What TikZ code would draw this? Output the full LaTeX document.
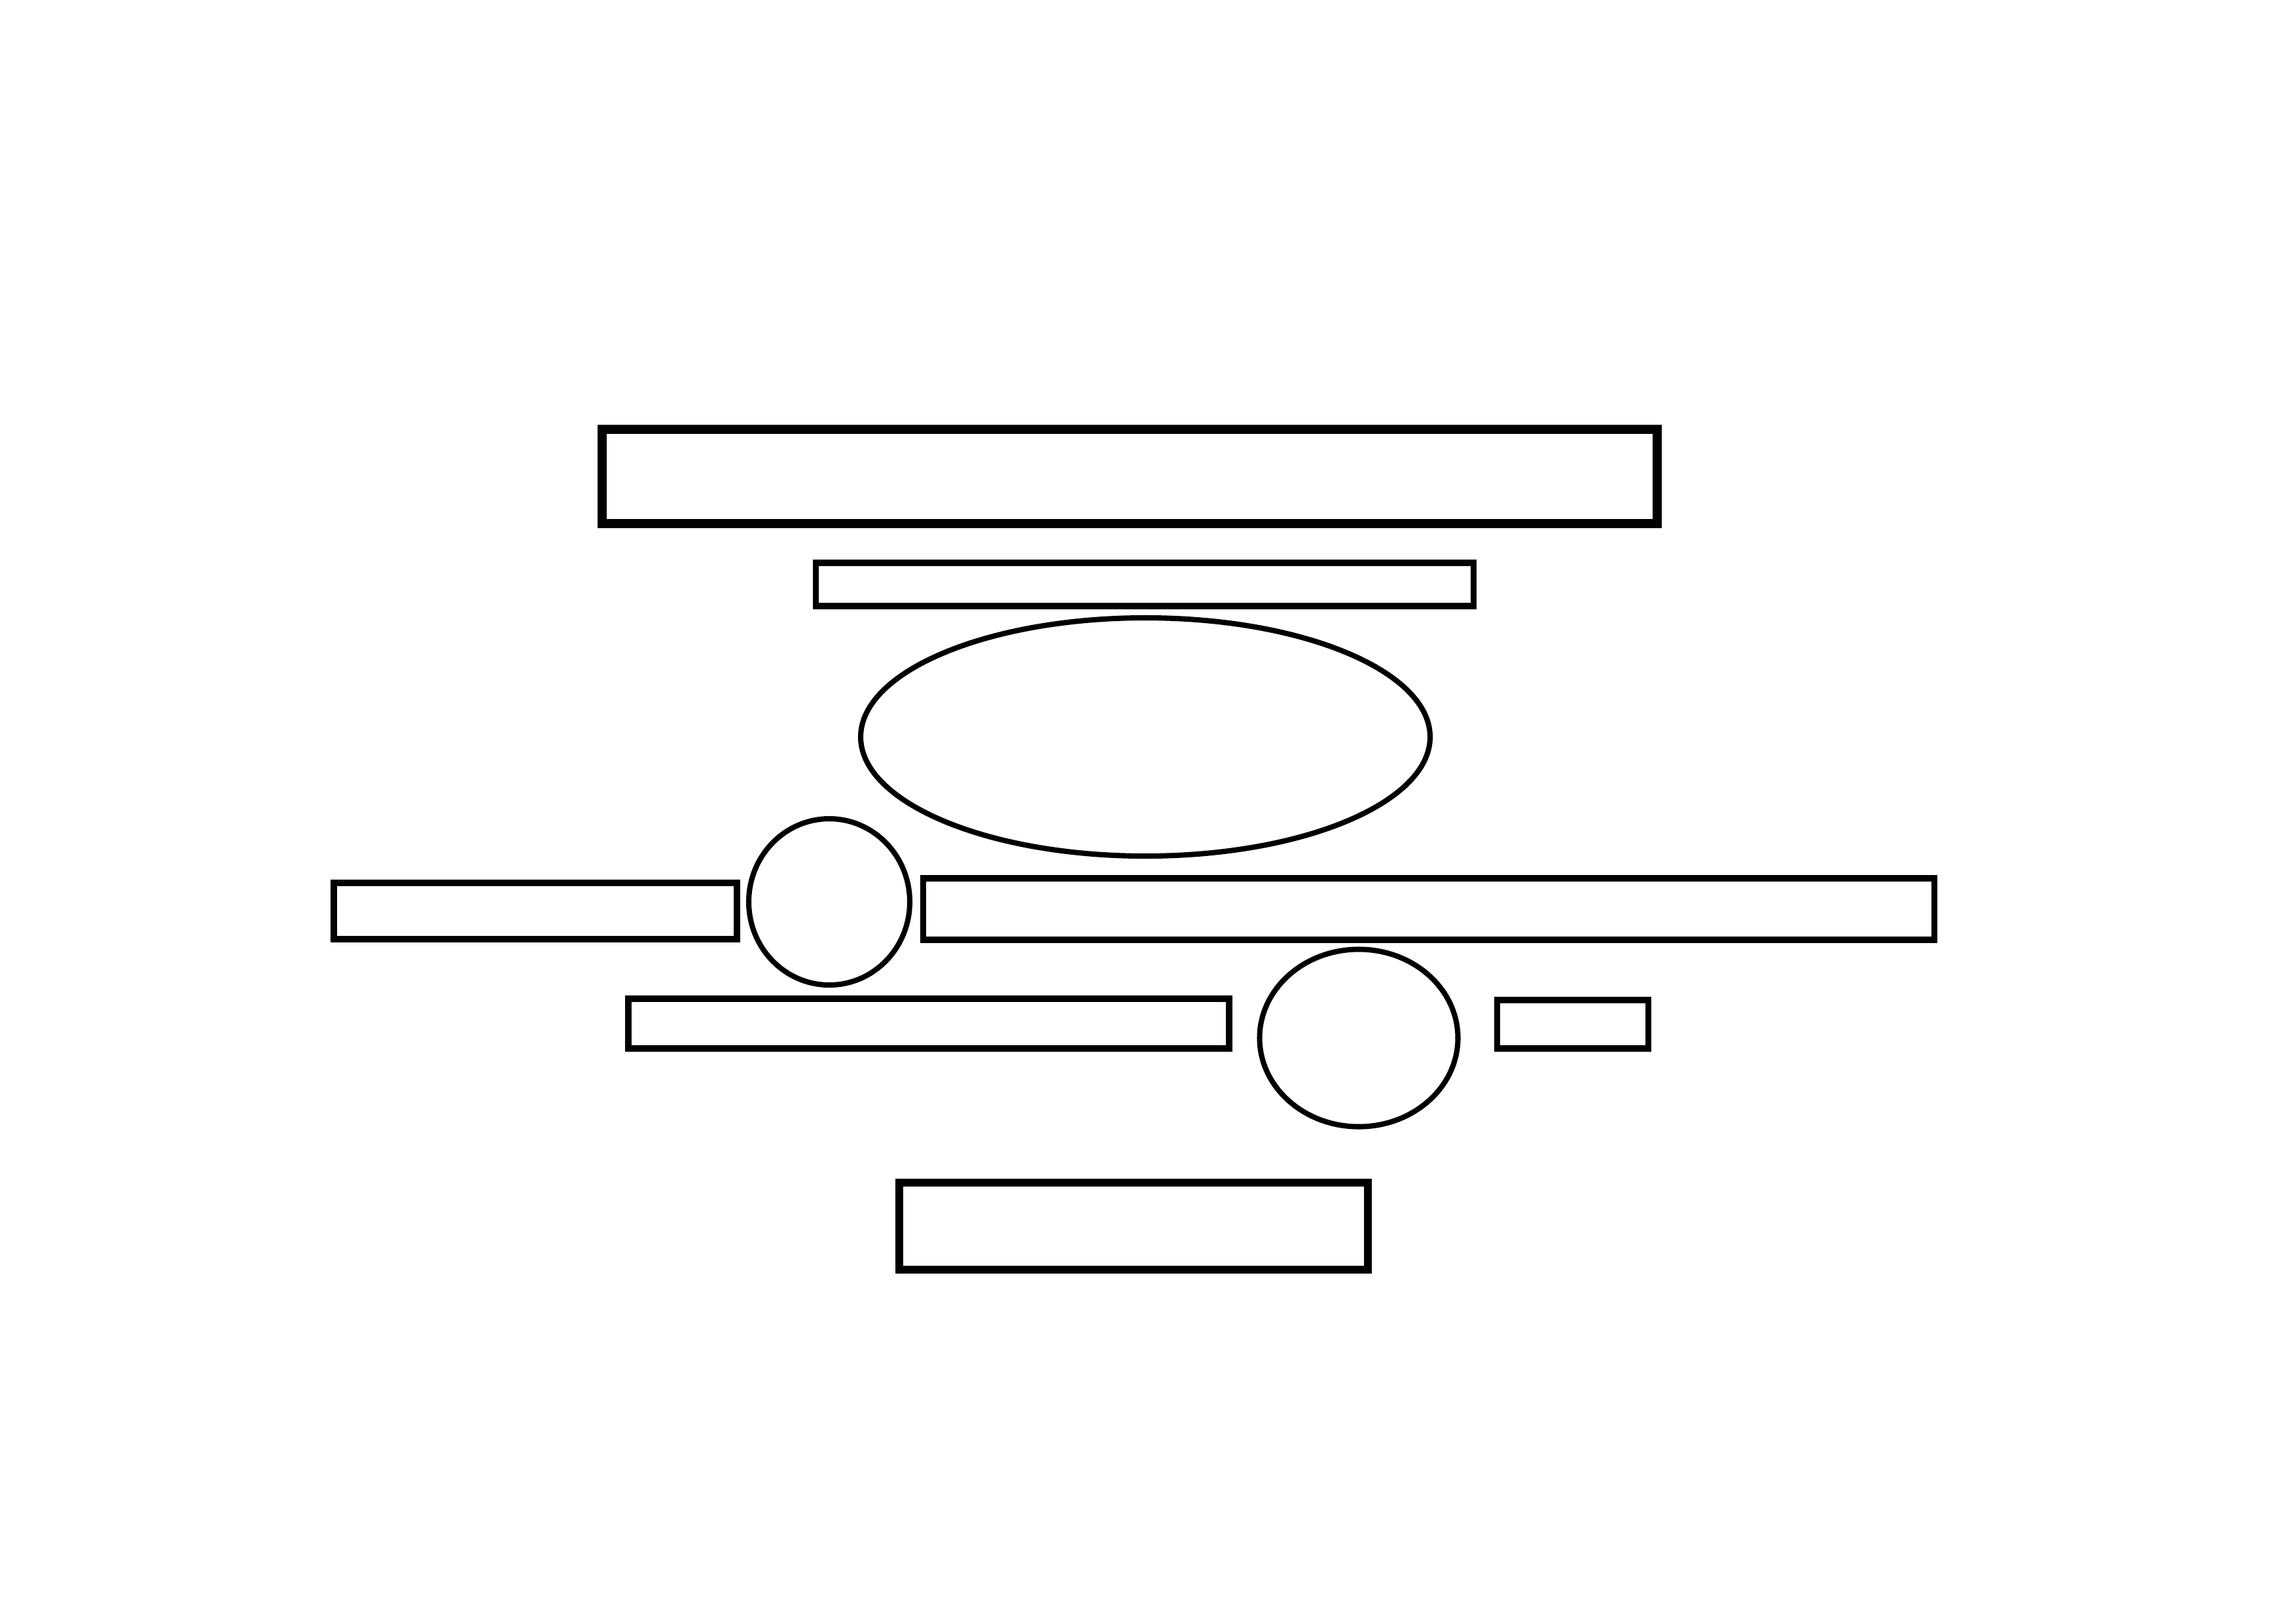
\documentclass[tikz,border=0pt]{standalone}
\usepackage{tikz}
\usetikzlibrary{shapes.geometric}

\begin{document}
\begin{tikzpicture}[
        box/.style={rectangle, draw=black, line width=2.6pt, inner sep=0pt},
        bigbox/.style={box, line width=4pt},
        oval/.style={ellipse, draw=black, line width=2.3pt, inner sep=0pt}
    ]

    % Page frame
    \useasboundingbox (0,0) rectangle (35.08,-24.59);

    % Top row
    \node[bigbox, minimum width=16.12cm, minimum height=1.44cm] (title) at (17.26,-7.28) {};
    \node[box, minimum width=10.05cm, minimum height=0.66cm] (sub) at (17.49,-8.93) {};
    \node[oval, minimum width=8.70cm, minimum height=3.64cm] (core) at (17.50,-11.26) {};

    % Middle row
    \node[box, minimum width=6.16cm, minimum height=0.86cm] (left) at (8.18,-13.92) {};
    \node[oval, minimum width=2.46cm, minimum height=2.54cm] (ring) at (12.67,-13.78) {};
    \node[box, minimum width=15.45cm, minimum height=0.94cm] (right) at (21.83,-13.89) {};

    % Lower row
    \node[box, minimum width=9.18cm, minimum height=0.76cm] (lower) at (14.19,-15.64) {};
    \node[oval, minimum width=3.03cm, minimum height=2.71cm] (egg) at (20.76,-15.86) {};
    \node[box, minimum width=2.31cm, minimum height=0.74cm] (small) at (24.03,-15.65) {};

    % Bottom
    \node[bigbox, line width=3.4pt, minimum width=7.16cm, minimum height=1.33cm] (base) at (17.32,-18.73) {};

\end{tikzpicture}
\end{document}
